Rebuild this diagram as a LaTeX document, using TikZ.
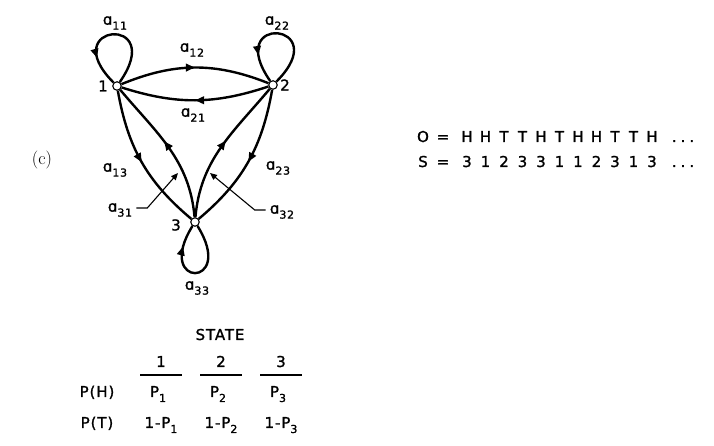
\documentclass[tikz,border=0pt]{standalone}
\usepackage{fontspec}
\usetikzlibrary{arrows.meta,decorations.markings}

\newfontfamily\leroy[LetterSpace=6,FakeBold=1.3]{DejaVu Sans}
\newcommand{\lsub}[2]{#1\raisebox{-5pt}{\fontsize{11}{11}\selectfont #2}}

\tikzset{
	state/.style={circle,draw,fill=white,line width=1.1pt,inner sep=0pt,minimum size=8.5pt},
	trans/.style={line width=2.4pt,postaction={decorate},
		decoration={markings,mark=at position #1 with {\arrow{Triangle[length=9pt,width=7.5pt]}}}},
	trans/.default=0.5,
	leader/.style={line width=1.1pt,-{Triangle[length=7pt,width=6pt]}},
	lbl/.style={font=\leroy\fontsize{15}{18}\selectfont,inner sep=0pt},
	txt/.style={lbl,anchor=base}
}

\begin{document}
\begin{tikzpicture}[x=1pt,y=1pt]
		\useasboundingbox (0,0) rectangle (714,446);

		\node[state] (n1) at (117,360) {};
		\node[state] (n2) at (273,361) {};
		\node[state] (n3) at (195,224) {};

		\draw[trans] (n1) to[bend left=22] (n2);
		\draw[trans] (n2) to[bend left=18] (n1);
		\draw[trans] (n1) to[out=-80,in=140] (n3);
		\draw[trans=0.55] (n3) to[out=95,in=-50] (n1);
		\draw[trans=0.55] (n3) to[out=85,in=230] (n2);
		\draw[trans] (n2) to[out=-100,in=40] (n3);

		\draw[trans=0.76] (n1) to[out=55,in=135,min distance=84pt] (n1);
		\draw[trans=0.77] (n2) to[out=45,in=125,min distance=84pt] (n2);
		\draw[trans=0.8] (n3) to[out=-58,in=-122,min distance=74pt] (n3);

		\foreach \name/\x/\y/\value in {t11/115/423/11, t22/277/423/22, t12/192/396/12, t21/193/331/21,
			t13/115/276/13, t23/278/278/23, t31/120/236/31, t32/282/234/32, t33/197/158/33}
		{
			\node[lbl] (\name) at (\x,\y) {\lsub{ɑ}{\value}};
		}

		\foreach \name/\x/\y/\value in {l1/103/360/1, l2/285/361/2, l3/176/221/3}
		{
			\node[lbl] (\name) at (\x,\y) {\value};
		}

		\coordinate (p31) at (178,273);
		\coordinate (p32) at (210,273);
		\draw[leader] ([xshift=4pt,yshift=2pt]t31.east) -- ++(11,0) -- (p31);
		\draw[leader] ([xshift=-4pt,yshift=2pt]t32.west) -- ++(-11,0) -- (p32);

		\node[font=\fontsize{18}{21}\selectfont,inner sep=0pt] (c) at (42,286) {(c)};

		\node[txt] (o) at (423,304) {O};
		\node[txt] (oeq) at (443,304) {=};
		\foreach \value [count=\i] in {H,H,T,T,H,T,H,H,T,T,H}
		{
			\node[txt] (o\i) at (467+18.5*\i-18.5,304) {\value};
		}
		\node[txt] (odots) at (683,304) {.\hspace{4pt}.\hspace{4pt}.};

		\node[txt] (s) at (423,279) {S};
		\node[txt] (seq) at (443,279) {=};
		\foreach \value [count=\i] in {3,1,2,3,3,1,1,2,3,1,3}
		{
			\node[txt] (s\i) at (467+18.5*\i-18.5,279) {\value};
		}
		\node[txt] (sdots) at (683,279) {.\hspace{4pt}.\hspace{4pt}.};

		\node[txt] (state) at (220,106) {STATE};
		\foreach \i/\x in {1/161, 2/221, 3/281}
		{
			\node[txt] (h\i) at (\x,79) {\i};
			\draw[line width=1.2pt] (\x-21,71) -- (\x+21,71);
			\node[txt] (ph\i) at (\x-3,49) {\lsub{P}{\i}};
			\node[txt] (pt\i) at (\x,18) {1-\lsub{P}{\i}};
		}
		\node[txt] (ph) at (97,49) {P(H)};
		\node[txt] (pt) at (97,18) {P(T)};
	\end{tikzpicture}
\end{document}
